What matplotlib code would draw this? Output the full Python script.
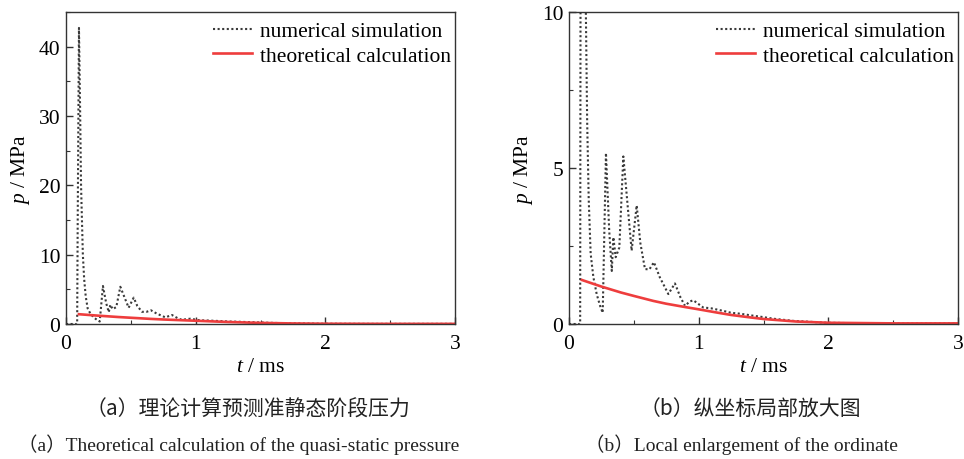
import matplotlib
matplotlib.use("Agg")
import matplotlib.pyplot as plt
from matplotlib.ticker import MultipleLocator

# ---- data ----
t_sim = [0.0, 0.086, 0.09, 0.1, 0.108, 0.116, 0.13, 0.14, 0.152, 0.167, 0.188,
         0.214, 0.24, 0.26, 0.285, 0.31, 0.33, 0.342, 0.36, 0.388, 0.419, 0.45,
         0.483, 0.522, 0.55, 0.586, 0.62, 0.655, 0.7, 0.766, 0.817, 0.86, 0.895,
         0.93, 0.959, 1.035, 1.1, 1.19, 1.25, 1.32, 1.43, 1.5, 1.575, 1.73, 1.99,
         2.3, 2.6, 3.0]
p_sim = [0.0, 0.0, 14.0, 42.7, 32.0, 20.0, 10.0, 6.5, 4.0, 2.25, 1.5,
         0.95, 0.58, 0.36, 5.48, 3.0, 1.7, 2.78, 2.14, 2.45, 5.37, 3.9,
         2.35, 3.8, 2.6, 1.76, 1.75, 1.98, 1.5, 0.96, 1.30, 0.85, 0.58,
         0.72, 0.76, 0.53, 0.50, 0.42, 0.36, 0.33, 0.26, 0.22, 0.17, 0.10, 0.04,
         0.02, 0.02, 0.02]

t_theo = [0.1, 0.25, 0.4, 0.5, 0.65, 0.75, 0.9, 1.0, 1.15, 1.25, 1.4, 1.5, 1.75,
          2.0, 2.25, 2.5, 3.0]
p_theo = [1.41, 1.20, 1.01, 0.90, 0.74, 0.65, 0.54, 0.47, 0.36, 0.29, 0.21, 0.16,
          0.08, 0.04, 0.03, 0.02, 0.02]

legend_labels = ["numerical simulation", "theoretical calculation"]
cap_cn = ["（a）理论计算预测准静态阶段压力", "（b）纵坐标局部放大图"]
cap_en = ["（a）Theoretical calculation of the quasi-static pressure",
          "（b）Local enlargement of the ordinate"]

ylims = [(0, 45), (0, 10)]
ymajor = [10, 5]
yminor = [5, 2.5]

# ---- style ----
plt.rcParams['font.family'] = ['Liberation Serif', 'Noto Sans CJK SC', 'DejaVu Sans']
plt.rcParams['mathtext.fontset'] = 'custom'
plt.rcParams['mathtext.it'] = 'Liberation Serif:italic'
plt.rcParams['mathtext.rm'] = 'Liberation Serif'

W, H = 964, 460
fig = plt.figure(figsize=(W / 100, H / 100), dpi=100)

boxes = [(66, 455), (569, 958)]
top_px, bot_px = 13, 325
red = '#ee3d3d'
spine_c = '#333333'
fs = 15.5

for i, (x0, x1) in enumerate(boxes):
    ax = fig.add_axes([x0 / W, (H - bot_px) / H, (x1 - x0) / W, (bot_px - top_px) / H])
    ax.plot(t_sim, p_sim, color='#3a3a3a', lw=1.5, linestyle=(0, (1, 1.2)),
            label=legend_labels[0])
    ax.plot(t_theo, p_theo, color=red, lw=1.9, label=legend_labels[1])
    ax.set_xlim(0, 3)
    ax.set_ylim(*ylims[i])
    ax.xaxis.set_major_locator(MultipleLocator(1))
    ax.xaxis.set_minor_locator(MultipleLocator(0.5))
    ax.yaxis.set_major_locator(MultipleLocator(ymajor[i]))
    ax.yaxis.set_minor_locator(MultipleLocator(yminor[i]))
    ax.tick_params(which='both', direction='in', top=False, right=False,
                   color=spine_c, labelsize=fs)
    ax.tick_params(which='major', length=5, width=1)
    ax.tick_params(which='minor', length=3, width=0.8)
    ax.tick_params(axis='x', pad=7)
    ax.tick_params(axis='y', pad=4)
    for s in ax.spines.values():
        s.set_color(spine_c)
        s.set_linewidth(1.0)
    ax.set_xlabel(r'$t$ / ms', fontsize=fs, labelpad=3)
    ax.set_ylabel(r'$p$ / MPa', fontsize=fs, labelpad=5)
    ax.legend(loc='upper right', bbox_to_anchor=(1.0, 0.985), frameon=False,
              fontsize=fs, handlelength=1.8, handletextpad=0.35,
              labelspacing=0.22, borderaxespad=0.0, borderpad=0.2)

    cx = (x0 + x1) / 2
    fig.text((cx - 13) / W, 1 - 410 / H, cap_cn[i], ha='center', va='center',
             fontsize=15, family=['Noto Sans CJK SC', 'DejaVu Sans'], color='#222222')
    fig.text((cx - 22) / W, 1 - 445 / H, cap_en[i], ha='center', va='center',
             fontsize=14, family=['Liberation Serif', 'Noto Sans CJK SC'], color='#222222')

fig.savefig('out.png', dpi=100)
